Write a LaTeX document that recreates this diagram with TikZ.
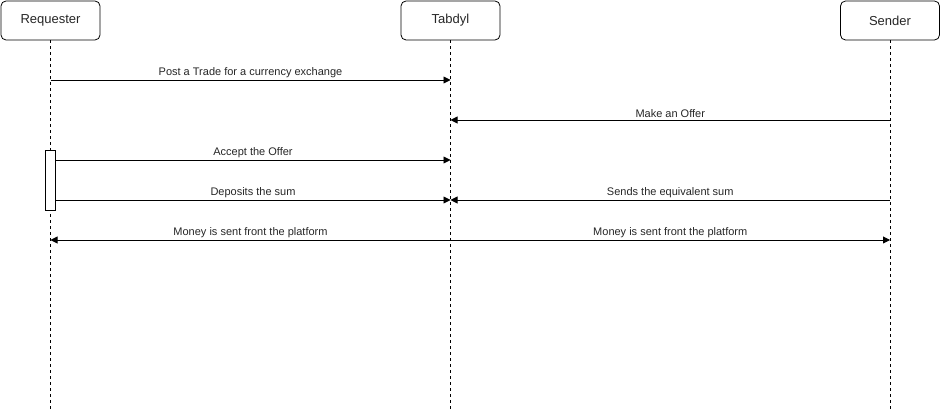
\documentclass[tikz,border=0pt]{standalone}
\usepackage{fontspec}
\setmainfont{Liberation Sans}
\usetikzlibrary{arrows.meta}
\begin{document}
\begin{tikzpicture}[x=1pt,y=-1pt,
  actor/.style={draw,rounded corners=5pt,minimum width=99pt,minimum height=39pt,inner sep=0pt,font=\fontsize{13}{15}\selectfont,text=black!85,line width=0.8pt},
  life/.style={dash pattern=on 3pt off 3pt,line width=0.8pt},
  msg/.style={-{Triangle[length=7pt,width=7pt]},line width=0.9pt},
  lbl/.style={font=\fontsize{11}{13}\selectfont,text=black!85,above=1pt,inner sep=1pt},
  actbox/.style={draw,fill=white,line width=0.8pt,minimum width=10pt,minimum height=60pt,inner sep=0pt}]
\useasboundingbox (0,0) rectangle (941,411);
\node[actor] (req) at (50.5,20.5) {Requester};
\node[actor] (tab) at (450.5,20.5) {Tabdyl};
\node[actor] (snd) at (890,20.5) {Sender};
\coordinate (reqEnd) at (50.5,411);
\coordinate (tabEnd) at (450.5,411);
\coordinate (sndEnd) at (890,411);
\draw[life] (req.south) -- (reqEnd);
\draw[life] (tab.south) -- (tabEnd);
\draw[life] (snd.south) -- (sndEnd);
\node[actbox] (act) at (50.5,180) {};
% messages
\coordinate (r1) at (50.5,80); \coordinate (t1) at (450.5,80);
\coordinate (s2) at (890,120); \coordinate (t2) at (450.5,120);
\coordinate (a3) at (55.5,160); \coordinate (t3) at (450.5,160);
\coordinate (a4) at (55.5,200); \coordinate (t4) at (450.5,200);
\coordinate (s4) at (890,200);
\coordinate (r5) at (50.5,240); \coordinate (t5) at (450.5,240); \coordinate (s5) at (890,240);
\draw[msg] (r1) -- node[lbl]{Post a Trade for a currency exchange} (t1);
\draw[msg] (s2) -- node[lbl]{Make an Offer} (t2);
\draw[msg] (a3) -- node[lbl]{Accept the Offer} (t3);
\draw[msg] (a4) -- node[lbl]{Deposits the sum} (t4);
\draw[msg] (s4) -- node[lbl]{Sends the equivalent sum} (t4);
\draw[msg] (t5) -- node[lbl]{Money is sent front the platform} (r5);
\draw[msg] (t5) -- node[lbl]{Money is sent front the platform} (s5);
\end{tikzpicture}
\end{document}
